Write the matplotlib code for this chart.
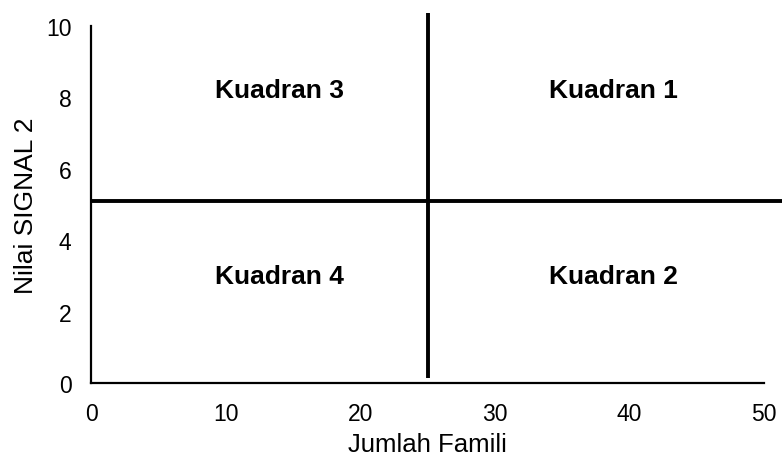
import matplotlib
matplotlib.use("Agg")
import matplotlib.pyplot as plt

plt.rcParams['font.family'] = ['Liberation Sans', 'DejaVu Sans']

x_ticks = [0, 10, 20, 30, 40, 50]
y_ticks = [0, 2, 4, 6, 8, 10]
v_line_x = [25, 25]
v_line_y = [0.14, 10.36]
h_line_x = [0, 52]
h_line_y = [5.1, 5.1]
quad_labels = ["Kuadran 3", "Kuadran 1", "Kuadran 4", "Kuadran 2"]
quad_x = [14, 38.8, 14, 38.8]
quad_y = [8.2, 8.2, 3.0, 3.0]

fig = plt.figure(figsize=(7.82, 4.6), dpi=100)
ax = fig.add_axes([0.1164, 0.1652, 0.977 - 0.1164, 0.9413 - 0.1652])
ax.set_xlim(0, 50)
ax.set_ylim(0, 10)
ax.set_xticks(x_ticks)
ax.set_yticks(y_ticks)
ax.tick_params(axis='x', length=0, labelsize=16.5, pad=14)
ax.tick_params(axis='y', length=0, labelsize=16.5, pad=14)
for s in ['top', 'right']:
    ax.spines[s].set_visible(False)
for s in ['left', 'bottom']:
    ax.spines[s].set_linewidth(1.6)

ax.plot(v_line_x, v_line_y, color='black', lw=2.8, clip_on=False, solid_capstyle='butt')
ax.plot(h_line_x, h_line_y, color='black', lw=2.8, clip_on=False, solid_capstyle='butt')

for t, xx, yy in zip(quad_labels, quad_x, quad_y):
    ax.text(xx, yy, t, fontsize=19, fontweight='bold', ha='center', va='center')

ax.set_xlabel("Jumlah Famili", fontsize=18.5, labelpad=5)
ax.set_ylabel("Nilai SIGNAL 2", fontsize=19, labelpad=6)

fig.savefig("out.png", dpi=100)
